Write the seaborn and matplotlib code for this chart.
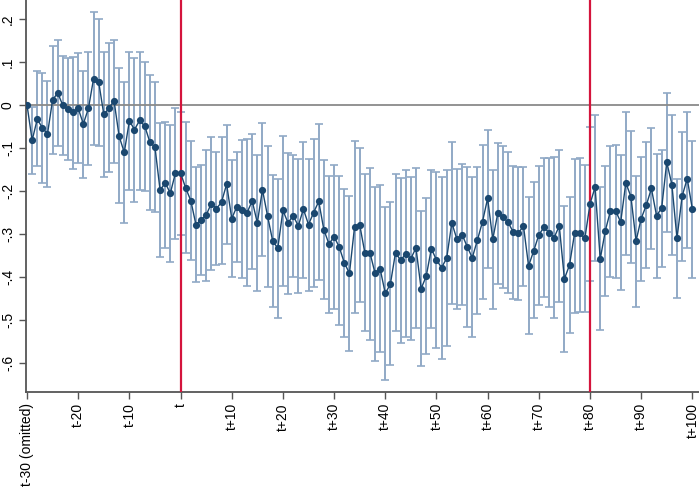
import matplotlib
matplotlib.use("Agg")
import matplotlib.pyplot as plt
import numpy as np
import pandas as pd
import seaborn as sns

# event time, t-30 .. t+100
periods = list(range(-30, 101))

coef = [
    0.000, -0.082, -0.033, -0.053, -0.067, 0.012, 0.028, -0.001, -0.009, -0.017,
    -0.008, -0.044, -0.008, 0.061, 0.054, -0.022, -0.008, 0.010, -0.073, -0.110,
    -0.037, -0.057, -0.036, -0.049, -0.086, -0.098, -0.198, -0.181, -0.205, -0.158,
    -0.158, -0.193, -0.222, -0.278, -0.267, -0.256, -0.229, -0.241, -0.226, -0.184,
    -0.264, -0.236, -0.245, -0.250, -0.223, -0.274, -0.197, -0.258, -0.316, -0.333,
    -0.245, -0.274, -0.257, -0.281, -0.242, -0.278, -0.250, -0.224, -0.290, -0.323,
    -0.306, -0.330, -0.367, -0.391, -0.283, -0.278, -0.343, -0.343, -0.391, -0.381,
    -0.438, -0.416, -0.343, -0.361, -0.346, -0.357, -0.332, -0.427, -0.398, -0.334,
    -0.360, -0.378, -0.356, -0.274, -0.312, -0.301, -0.329, -0.355, -0.314, -0.271,
    -0.217, -0.312, -0.251, -0.260, -0.273, -0.295, -0.298, -0.281, -0.374, -0.339,
    -0.302, -0.284, -0.297, -0.308, -0.281, -0.404, -0.372, -0.297, -0.298, -0.310,
    -0.230, -0.191, -0.358, -0.292, -0.246, -0.246, -0.272, -0.181, -0.213, -0.316,
    -0.264, -0.233, -0.194, -0.257, -0.240, -0.133, -0.185, -0.310, -0.212, -0.171,
    -0.242,
]

ci_lo = [
    np.nan, -0.160, -0.142, -0.182, -0.190, -0.113, -0.095, -0.117, -0.128, -0.148,
    -0.134, -0.169, -0.139, -0.094, -0.095, -0.168, -0.156, -0.134, -0.227, -0.274,
    -0.198, -0.226, -0.198, -0.200, -0.243, -0.249, -0.354, -0.333, -0.364, -0.312,
    -0.301, -0.345, -0.360, -0.412, -0.394, -0.410, -0.384, -0.372, -0.369, -0.322,
    -0.400, -0.365, -0.403, -0.421, -0.381, -0.432, -0.352, -0.422, -0.470, -0.494,
    -0.421, -0.440, -0.400, -0.438, -0.401, -0.433, -0.424, -0.407, -0.452, -0.483,
    -0.475, -0.512, -0.539, -0.571, -0.483, -0.459, -0.526, -0.545, -0.595, -0.574,
    -0.640, -0.605, -0.525, -0.552, -0.539, -0.545, -0.518, -0.607, -0.578, -0.519,
    -0.564, -0.590, -0.560, -0.463, -0.474, -0.465, -0.516, -0.540, -0.486, -0.450,
    -0.378, -0.475, -0.415, -0.426, -0.436, -0.450, -0.453, -0.421, -0.533, -0.496,
    -0.465, -0.447, -0.470, -0.494, -0.457, -0.574, -0.531, -0.483, -0.480, -0.480,
    -0.410, -0.363, -0.523, -0.444, -0.399, -0.403, -0.430, -0.349, -0.368, -0.469,
    -0.409, -0.378, -0.335, -0.403, -0.376, -0.295, -0.348, -0.448, -0.363, -0.333,
    -0.401,
]

ci_hi = [
    np.nan, -0.004, 0.078, 0.075, 0.056, 0.136, 0.152, 0.115, 0.109, 0.111,
    0.120, 0.080, 0.122, 0.215, 0.200, 0.122, 0.143, 0.151, 0.085, 0.054,
    0.122, 0.110, 0.123, 0.100, 0.070, 0.053, -0.043, -0.040, -0.047, -0.006,
    -0.016, -0.040, -0.083, -0.145, -0.140, -0.105, -0.074, -0.110, -0.075, -0.047,
    -0.128, -0.109, -0.081, -0.080, -0.067, -0.116, -0.043, -0.095, -0.163, -0.173,
    -0.071, -0.111, -0.116, -0.126, -0.085, -0.126, -0.078, -0.044, -0.128, -0.165,
    -0.140, -0.164, -0.195, -0.212, -0.084, -0.101, -0.160, -0.147, -0.190, -0.187,
    -0.236, -0.226, -0.161, -0.169, -0.151, -0.167, -0.146, -0.247, -0.215, -0.151,
    -0.155, -0.167, -0.151, -0.085, -0.149, -0.138, -0.143, -0.168, -0.143, -0.093,
    -0.057, -0.150, -0.089, -0.095, -0.110, -0.142, -0.143, -0.143, -0.213, -0.179,
    -0.142, -0.124, -0.124, -0.122, -0.105, -0.234, -0.213, -0.126, -0.124, -0.140,
    -0.050, -0.023, -0.190, -0.142, -0.095, -0.093, -0.116, -0.016, -0.060, -0.164,
    -0.120, -0.086, -0.053, -0.115, -0.105, 0.029, -0.023, -0.171, -0.063, -0.016,
    -0.084,
]

xticks = [-30, -20, -10, 0, 10, 20, 30, 40, 50, 60, 70, 80, 90, 100]
xlabels = ["t-30 (omitted)", "t-20", "t-10", "t", "t+10", "t+20", "t+30", "t+40",
           "t+50", "t+60", "t+70", "t+80", "t+90", "t+100"]
yticks = [-0.6, -0.5, -0.4, -0.3, -0.2, -0.1, 0, 0.1, 0.2]
ylabels = ["-.6", "-.5", "-.4", "-.3", "-.2", "-.1", "0", ".1", ".2"]
event_lines = [0, 80]

d = pd.DataFrame({"period": periods, "coef": coef, "lo": ci_lo, "hi": ci_hi})

sns.set_style("white")
plt.rcParams["font.family"] = ["Liberation Sans", "DejaVu Sans"]

navy = "#1a476f"
bar_col = "#90a9c6"

fig = plt.figure(figsize=(6.99, 4.90), dpi=100)
ax = fig.add_axes([26 / 699, 98 / 490, 673 / 699, 392 / 490])

err = np.array([d["coef"] - d["lo"], d["hi"] - d["coef"]])
ax.errorbar(d["period"], d["coef"], yerr=err, fmt="none", ecolor=bar_col,
            elinewidth=1.4, capsize=2.6, capthick=1.2, zorder=1)

ax.axhline(0, color="#8a8a8a", lw=1.3, zorder=2)
for xv in event_lines:
    ax.axvline(xv, color="#d4143c", lw=1.6, zorder=3)

sns.lineplot(data=d, x="period", y="coef", color=navy, lw=1.0, marker="o",
             markersize=5.2, markeredgewidth=0, ax=ax, zorder=4)

ax.set_xlim(-30.2, 101.3)
ax.set_ylim(-0.667, 0.244)
ax.set_xticks(xticks)
ax.set_xticklabels(xlabels, rotation=90, fontsize=10)
ax.set_yticks(yticks)
ax.set_yticklabels(ylabels, rotation=90, va="center", fontsize=10)
ax.set_xlabel("")
ax.set_ylabel("")

for s in ["top", "right"]:
    ax.spines[s].set_visible(False)
for s in ["left", "bottom"]:
    ax.spines[s].set_color("#555555")
    ax.spines[s].set_linewidth(1.3)
ax.tick_params(axis="both", direction="out", length=5, width=1.0,
               color="#555555", labelcolor="black", pad=3,
               bottom=True, left=True)

fig.savefig("out.png", dpi=100)
